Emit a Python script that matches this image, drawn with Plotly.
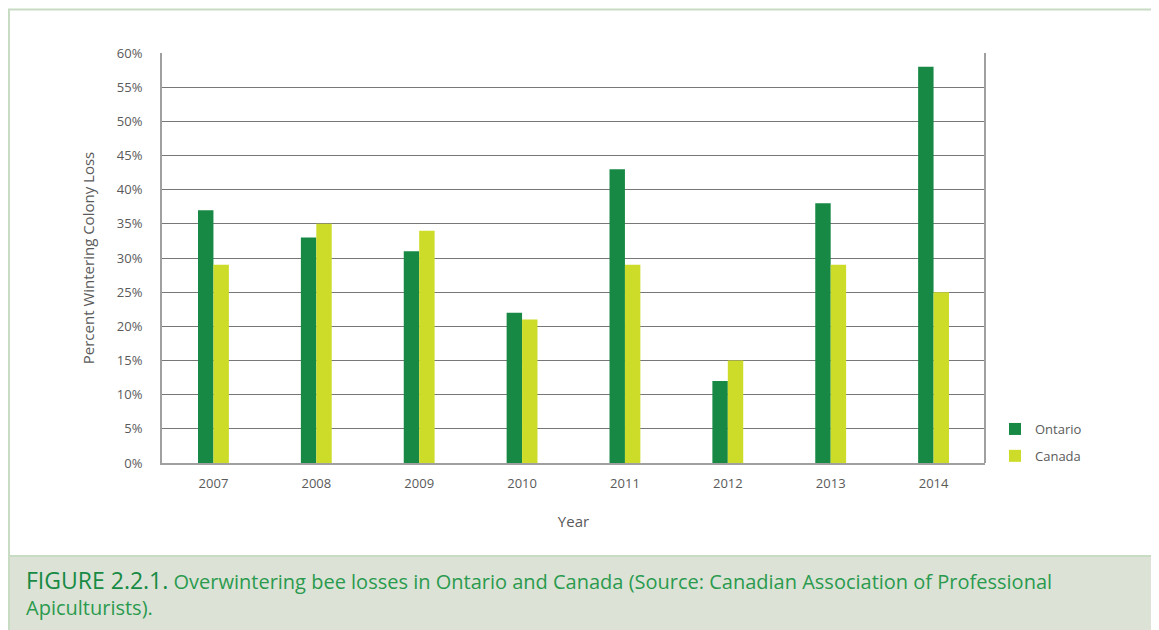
import plotly.graph_objects as go

years = ["2007", "2008", "2009", "2010", "2011", "2012", "2013", "2014"]
ontario = [37, 33, 31, 22, 43, 12, 38, 58]
canada = [29, 35, 34, 21, 29, 15, 29, 25]
y_ticks = [0, 5, 10, 15, 20, 25, 30, 35, 40, 45, 50, 55, 60]
y_labels = [f"{v}%" for v in y_ticks]

OFF = 8  # page body margin
W, H = 1159 - OFF, 630 - OFF
L, R, T, B = 162 - OFF, 985 - OFF, 53 - OFF, 463 - OFF

def px(x):
    return (x - OFF - L) / (R - L)

def py(y):
    return (B - (y - OFF)) / (B - T)

fig = go.Figure()
fig.add_trace(go.Bar(name="Ontario", x=years, y=ontario, legendgroup="o",
                     marker=dict(color="#178945", line=dict(width=0))))
fig.add_trace(go.Bar(name="Canada", x=years, y=canada, legendgroup="c",
                     marker=dict(color="#cddc29", line=dict(width=0))))

font_fam = "Open Sans, Noto Sans, sans-serif"

fig.update_layout(
    width=W, height=H,
    margin=dict(l=L, r=W - R, t=T, b=H - B, pad=0),
    paper_bgcolor="white", plot_bgcolor="white",
    barmode="group", bargap=0.70, bargroupgap=0,
    font=dict(family=font_fam, size=13, color="#5a5a5a"),
    showlegend=True,
    legend=dict(x=px(995), y=py(414), xanchor="left", yanchor="top",
                font=dict(size=13, color="#5a5a5a"), bgcolor="rgba(0,0,0,0)",
                tracegroupgap=7, itemsizing="constant"),
    xaxis=dict(showgrid=False, showline=True, linecolor="#a0a0a0", linewidth=2,
               ticks="", tickfont=dict(size=13, color="#5a5a5a"), ticklabelstandoff=7,
               title=dict(text="Year", font=dict(size=15, color="#5a5a5a"), standoff=26),
               mirror=False),
    yaxis=dict(range=[0, 60], tickvals=y_ticks, ticktext=y_labels,
               showgrid=True, gridcolor="#777777", gridwidth=1,
               showline=True, linecolor="#a0a0a0", linewidth=2, ticks="",
               zeroline=False, tickfont=dict(size=13, color="#5a5a5a"), ticklabelstandoff=15,
               title=dict(text="Percent Wintering Colony Loss", font=dict(size=15, color="#5a5a5a"), standoff=19)),
)

shapes = []
shapes.append(dict(type="line", xref="paper", yref="paper", x0=1, x1=1, y0=0, y1=1,
                   line=dict(color="#a0a0a0", width=2)))
shapes.append(dict(type="rect", xref="paper", yref="paper", x0=px(8), x1=px(1170), y0=py(556), y1=py(640),
                   fillcolor="#dce3d6", line=dict(width=0), layer="below"))
shapes.append(dict(type="line", xref="paper", yref="paper", x0=px(8), x1=px(1170), y0=py(556), y1=py(556),
                   line=dict(color="#c8dcc4", width=2)))
shapes.append(dict(type="line", xref="paper", yref="paper", x0=px(8), x1=px(1170), y0=py(9.5), y1=py(9.5),
                   line=dict(color="#c8dcc4", width=2)))
shapes.append(dict(type="line", xref="paper", yref="paper", x0=px(9), x1=px(9), y0=py(9), y1=py(640),
                   line=dict(color="#c8dcc4", width=2)))
fig.update_layout(shapes=shapes)

fig.add_annotation(xref="paper", yref="paper", x=px(24), y=py(580), xanchor="left", yanchor="middle",
                   showarrow=False, align="left",
                   text="<span style='font-size:23px;color:#178a44'>FIGURE 2.2.1.</span>"
                        "<span style='font-size:20px;color:#2a9a4e'> Overwintering bee losses in Ontario and Canada (Source: Canadian Association of Professional</span>",
                   font=dict(family=font_fam, color="#2a9a4e"))
fig.add_annotation(xref="paper", yref="paper", x=px(24), y=py(607), xanchor="left", yanchor="middle",
                   showarrow=False, align="left",
                   text="Apiculturists).",
                   font=dict(family=font_fam, size=20, color="#2a9a4e"))

fig.write_html("out.html")
